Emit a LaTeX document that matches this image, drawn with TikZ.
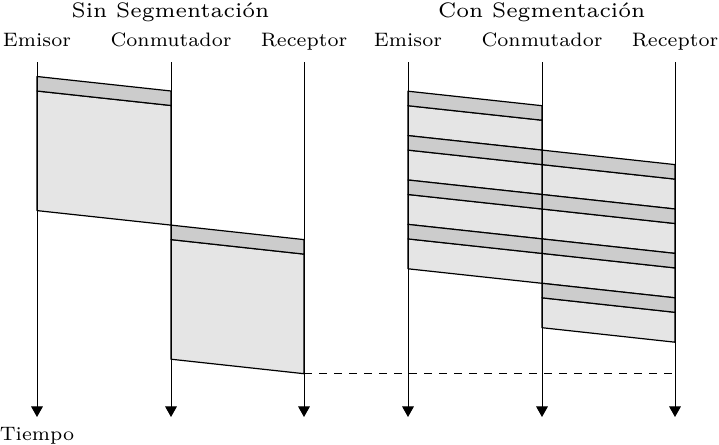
\documentclass[tikz,border=0pt]{standalone}
\usetikzlibrary{arrows.meta}
\definecolor{hdrgray}{gray}{0.8}
\definecolor{datgray}{gray}{0.9}
\tikzset{
  timeline/.style={line width=1pt,-{Triangle[width=11.7pt,length=10.6pt]}},
  hdrbox/.style={fill=hdrgray,draw=black,line width=1.2pt,line join=round},
  datbox/.style={fill=datgray,draw=black,line width=1.2pt,line join=round},
  lbl/.style={font=\fontsize{7}{8}\selectfont,scale=2.78,anchor=base,inner sep=0pt},
  ttl/.style={font=\fontsize{6}{7}\selectfont,scale=3.5,anchor=base,inner sep=0pt},
  waitline/.style={line width=1pt,dash pattern=on 7.5pt off 7.5pt}
}
% #1 x left, #2 x right, #3 y top at left, #4 data height
\newcommand\drawpkt[4]{%
  \filldraw[datbox] (#1,#3+14.5) -- (#2,#3+29) -- (#2,#3+29+#4) -- (#1,#3+14.5+#4) -- cycle;
  \filldraw[hdrbox] (#1,#3) -- (#2,#3+14.5) -- (#2,#3+29) -- (#1,#3+14.5) -- cycle;
}
\begin{document}
\begin{tikzpicture}[x=1pt,y=-1pt]
\useasboundingbox (0,0) rectangle (719,444);
% titles
\node[ttl] (tsin) at (170.5,17.3) {Sin Segmentación};
\node[ttl] (tcon) at (541.7,17.3) {Con Segmentación};
% labels
\node[lbl] (le1) at (37,46.7) {Emisor};
\node[lbl] (lc1) at (171,46.7) {Conmutador};
\node[lbl] (lr1) at (304,46.7) {Receptor};
\node[lbl] (le2) at (408,46.7) {Emisor};
\node[lbl] (lc2) at (542,46.7) {Conmutador};
\node[lbl] (lr2) at (675,46.7) {Receptor};
\node[lbl] (time) at (37,440) {Tiempo};
% packets, left
\drawpkt{37}{171}{76.5}{119.6}
\drawpkt{171}{304}{225.1}{119.6}
% packets, right
\foreach \k in {0,1,2,3}{
  \pgfmathsetmacro\ya{91.2+44.4*\k}
  \pgfmathsetmacro\yb{150.1+44.4*\k}
  \drawpkt{408}{542}{\ya}{29.9}
  \drawpkt{542}{675}{\yb}{29.9}
}
% timelines
\foreach \n/\x in {e1/37,c1/171,r1/304,e2/408,c2/542,r2/675}{
  \coordinate (\n t) at (\x,62);
  \coordinate (\n b) at (\x,417);
  \draw[timeline] (\n t) -- (\n b);
}
\coordinate (w1) at (304,373.7);
\coordinate (w2) at (675,373.7);
\draw[waitline] (w1) -- (w2);
\end{tikzpicture}
\end{document}
